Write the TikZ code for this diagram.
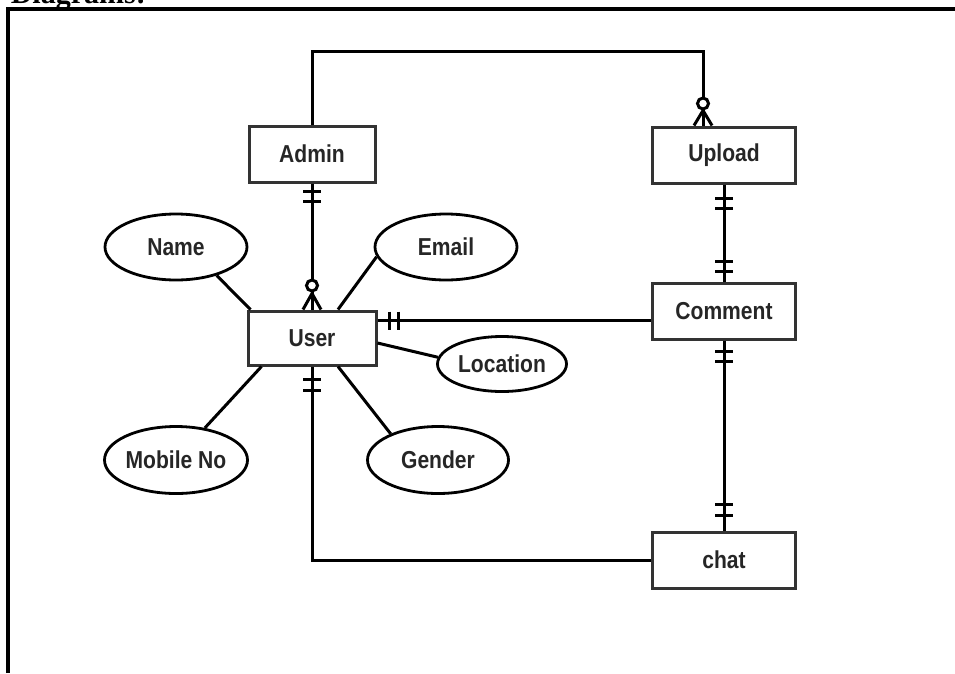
\documentclass[tikz,border=0pt]{standalone}
\usepackage{fontspec}
\setmainfont{Liberation Sans}
\newfontfamily\erfont[FakeStretch=0.86]{Liberation Sans}
\newfontfamily\headfont{Liberation Serif}
\usetikzlibrary{shapes.geometric,calc}
\begin{document}
\begin{tikzpicture}[x=1pt,y=-1pt,
  ent/.style={draw=black!80, line width=3pt, minimum height=56pt, inner sep=0pt,
    text=black!85, font=\erfont\bfseries\fontsize{24.5}{27}\selectfont},
  attr/.style={ellipse, draw=black, line width=2.8pt, inner sep=0pt,
    text=black!85, font=\erfont\bfseries\fontsize{24.5}{27}\selectfont},
  rel/.style={draw=black, line width=3pt},
  bar/.style={draw=black, line width=3pt},
  frame/.style={draw=black, line width=3.2pt}]
\useasboundingbox (0,0) rectangle (955,673);

% heading (cut off at the top of the page)
\node[anchor=base east, inner sep=0pt, font=\headfont\bfseries\fontsize{30}{32}\selectfont] (head) at (146,3) {Diagrams:};
% table cell frame
\draw[frame] (8,673) -- (8,9) -- (955,9);

% entities
\node[ent, minimum width=126pt] (admin)   at (312,154) {Admin};
\node[ent, minimum width=143pt] (upload)  at (724,155) {Upload};
\node[ent, minimum width=143pt] (comment) at (724,311) {Comment};
\node[ent, minimum width=143pt] (chat)    at (724,560) {chat};
\node[ent, minimum width=128pt, minimum height=54pt] (user) at (312,338) {User};

% attributes
\node[attr, minimum width=142pt, minimum height=66pt] (name)     at (176,247) {Name};
\node[attr, minimum width=142pt, minimum height=66pt] (email)    at (446,247) {Email};
\node[attr, minimum width=129pt, minimum height=55pt] (location) at (502,364) {Location};
\node[attr, minimum width=143pt, minimum height=67pt] (mobile)   at (176,460) {Mobile No};
\node[attr, minimum width=141pt, minimum height=67pt] (gender)   at (438,460) {Gender};

% attribute connectors
\draw[rel] (name.-35) -- ($(user.north west)+(4,0)$);
\draw[rel] (email.-172) -- ($(user.north)+(26,0)$);
\draw[rel] ($(user.east)+(0,5)$) -- (location.174);
\draw[rel] ($(user.south west)+(15,0)$) -- (mobile.48);
\draw[rel] ($(user.south)+(26,0)$) -- (gender.151);

% Admin -- User
\draw[rel] (admin.south) -- (user.north);
\draw[bar] ($(admin.south)+(-9,8)$) -- ++(18,0);
\draw[bar] ($(admin.south)+(-9,18)$) -- ++(18,0);
\draw[rel] ($(user.north)+(-9,0)$) -- ($(user.north)+(0,-16)$) -- ($(user.north)+(9,0)$);
\draw[rel, fill=white] ($(user.north)+(0,-24)$) circle (5.5);

% Admin -- Upload
\coordinate (upin) at ($(upload.north west)+(52,0)$);
\draw[rel] (admin.north) -- ++(0,-73) -| (upin);
\draw[rel] ($(upin)+(-9,0)$) -- ($(upin)+(0,-15)$) -- ($(upin)+(9,0)$);
\draw[rel, fill=white] ($(upin)+(0,-22)$) circle (5.5);

% Upload -- Comment
\draw[rel] (upload.south) -- (comment.north);
\draw[bar] ($(upload.south)+(-9,14)$) -- ++(18,0);
\draw[bar] ($(upload.south)+(-9,24)$) -- ++(18,0);
\draw[bar] ($(comment.north)+(-9,-20)$) -- ++(18,0);
\draw[bar] ($(comment.north)+(-9,-10)$) -- ++(18,0);

% User -- Comment
\coordinate (uc) at ($(user.north east)+(0,11)$);
\draw[rel] (uc) -- (uc -| comment.west);
\draw[bar] ($(uc)+(12,-9)$) -- ++(0,18);
\draw[bar] ($(uc)+(21,-9)$) -- ++(0,18);

% Comment -- chat
\draw[rel] (comment.south) -- (chat.north);
\draw[bar] ($(comment.south)+(-9,11)$) -- ++(18,0);
\draw[bar] ($(comment.south)+(-9,21)$) -- ++(18,0);
\draw[bar] ($(chat.north)+(-9,-26)$) -- ++(18,0);
\draw[bar] ($(chat.north)+(-9,-15)$) -- ++(18,0);

% chat -- User
\draw[rel] (chat.west) -| (user.south);
\draw[bar] ($(user.south)+(-9,13)$) -- ++(18,0);
\draw[bar] ($(user.south)+(-9,24)$) -- ++(18,0);
\end{tikzpicture}
\end{document}
